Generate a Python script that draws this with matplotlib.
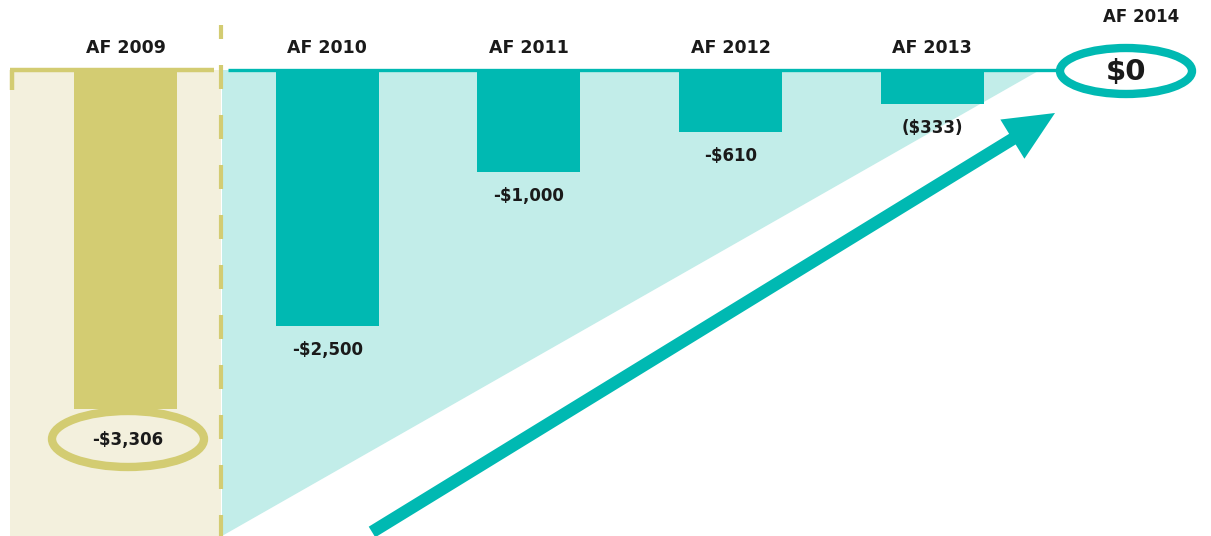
import matplotlib
matplotlib.use("Agg")
import matplotlib.pyplot as plt
from matplotlib.patches import Ellipse, Polygon, Rectangle

# ---- data ----
categories = ["AF 2009", "AF 2010", "AF 2011", "AF 2012", "AF 2013", "AF 2014"]
values = [-3306, -2500, -1000, -610, -333, 0]
value_labels = ["-$3,306", "-$2,500", "-$1,000", "-$610", "($333)", "$0"]

OLIVE = "#d3cc72"
OLIVE_LIGHT = "#f3f0dd"
TEAL = "#00b9b2"
TEAL_LIGHT = "#c2ede9"
INK = "#1a1a1a"

W, H = 1211, 536
fig = plt.figure(figsize=(W / 100, H / 100), dpi=100)
fig.patch.set_facecolor("white")

# background decoration axes (pixel coordinates)
bg = fig.add_axes([0, 0, 1, 1], zorder=0)
bg.set_xlim(0, W); bg.set_ylim(H, 0); bg.axis("off")
bg.add_patch(Rectangle((10, 70), 211, H - 70, facecolor=OLIVE_LIGHT, edgecolor="none"))
bg.add_patch(Polygon([(222, 70), (1040, 70), (222, H)], closed=True,
                     facecolor=TEAL_LIGHT, edgecolor="none"))
bg.plot([10, 214], [70, 70], color=OLIVE, lw=3.2, solid_capstyle="butt")
bg.plot([12, 12], [70, 90], color=OLIVE, lw=3.2, solid_capstyle="butt")
bg.plot([228, 1062], [70, 70], color=TEAL, lw=2.4, solid_capstyle="butt")
bg.plot([221, 221], [25, H], color=OLIVE, lw=3.0, solid_capstyle="butt",
        linestyle=(2.4, (5.76, 6.24)))
bg.arrow(372, 532, 1055 - 372, 113 - 532, width=12.5, head_width=46, head_length=50,
         length_includes_head=True, color=TEAL, ec="none")

# data axes
ax = fig.add_axes([0, 0, 1, 1], zorder=1)
ax.patch.set_alpha(0)
ax.axis("off")
px_per_unit = 256 / 2500.0
step = 201.7
x0 = 125.5
ax.set_xlim(-x0 / step, (W - x0) / step)
ax.set_ylim(-(H - 70) / px_per_unit, 70 / px_per_unit)

xs = list(range(len(categories)))
colors = [OLIVE] + [TEAL] * (len(categories) - 1)
ax.bar(xs[:-1], values[:-1], width=0.51, color=colors[:-1], zorder=2)

for i, (x, v, lab) in enumerate(zip(xs, values, value_labels)):
    if i == len(xs) - 1:
        ax.annotate(categories[i], (x, 0), xytext=(5, 38), textcoords="offset points",
                    ha="center", va="center", fontsize=12, fontweight="bold", color=INK)
        continue
    ax.annotate(categories[i], (x, 0), xytext=(0, 16), textcoords="offset points",
                ha="center", va="center", fontsize=12.5, fontweight="bold", color=INK)
    if i == 0:
        continue
    ax.annotate(lab, (x, v), xytext=(0, -17), textcoords="offset points",
                ha="center", va="center", fontsize=12, fontweight="bold", color=INK)

# foreground decoration (ellipses)
fg = fig.add_axes([0, 0, 1, 1], zorder=2)
fg.patch.set_alpha(0)
fg.set_xlim(0, W); fg.set_ylim(H, 0); fg.axis("off")
fg.add_patch(Ellipse((128, 439), 152, 56, facecolor=OLIVE_LIGHT, edgecolor=OLIVE, lw=6))
fg.text(128, 440, value_labels[0], ha="center", va="center", fontsize=12,
        fontweight="bold", color=INK)
fg.add_patch(Ellipse((1126, 71), 132, 46, facecolor="white", edgecolor=TEAL, lw=6))
fg.text(1126, 72, value_labels[-1], ha="center", va="center", fontsize=21,
        fontweight="bold", color=INK)

fig.savefig("out.png", dpi=100, facecolor="white")
